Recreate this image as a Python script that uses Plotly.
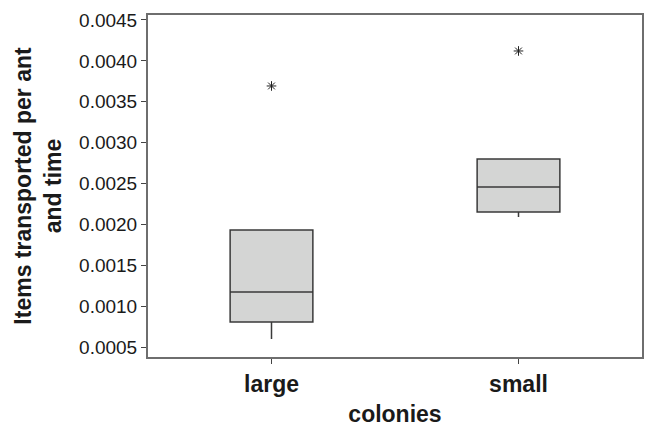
import plotly.graph_objects as go

categories = ["large", "small"]
q1 = [0.000806, 0.002151]
median = [0.001173, 0.002457]
q3 = [0.001931, 0.002800]
lowerfence = [0.000598, 0.002090]
upperfence = [0.001931, 0.002800]
outliers = [0.003693, 0.004121]

tick_vals = [0.0005, 0.0010, 0.0015, 0.0020, 0.0025, 0.0030, 0.0035, 0.0040, 0.0045]
tick_text = ["0.0005", "0.0010", "0.0015", "0.0020", "0.0025", "0.0030", "0.0035", "0.0040", "0.0045"]

fig = go.Figure()
fig.add_trace(go.Box(
    x=categories, q1=q1, median=median, q3=q3,
    lowerfence=lowerfence, upperfence=upperfence,
    width=0.335, whiskerwidth=0,
    fillcolor="#d4d5d4",
    line=dict(color="#3a3a3a", width=1.5),
    boxpoints=False, showlegend=False, hoverinfo="skip",
))
fig.add_trace(go.Scatter(
    x=categories, y=outliers, mode="markers",
    marker=dict(symbol="asterisk-open", size=8, color="#222222",
                line=dict(color="#222222", width=1)),
    showlegend=False, hoverinfo="skip",
))

font_family = "Liberation Sans, Arial, sans-serif"
fig.update_layout(
    width=646, height=428,
    margin=dict(l=148, r=2, t=15, b=71),
    paper_bgcolor="white", plot_bgcolor="white",
    font=dict(family=font_family, color="#1a1a1a"),
    xaxis=dict(
        type="category", categoryorder="array", categoryarray=categories,
        range=[-0.5, 1.5],
        showline=True, linecolor="#6e6e6e", linewidth=2, mirror=True,
        ticks="outside", ticklen=5, tickcolor="#444", tickwidth=1,
        showgrid=False, zeroline=False,
        tickfont=dict(size=23, family=font_family, weight="bold"),
        title=dict(text="<b>colonies</b>", font=dict(size=23, family=font_family), standoff=10),
    ),
    yaxis=dict(
        range=[0.000378, 0.004561],
        tickvals=tick_vals, ticktext=tick_text,
        showline=True, linecolor="#6e6e6e", linewidth=2, mirror=True,
        ticks="outside", ticklen=5, tickcolor="#444", tickwidth=1,
        showgrid=False, zeroline=False,
        tickfont=dict(size=19, family=font_family),
        title=dict(text="<b>Items transported per ant<br>and time</b>",
                   font=dict(size=23, family=font_family), standoff=11),
    ),
)
fig.write_html("out.html")
